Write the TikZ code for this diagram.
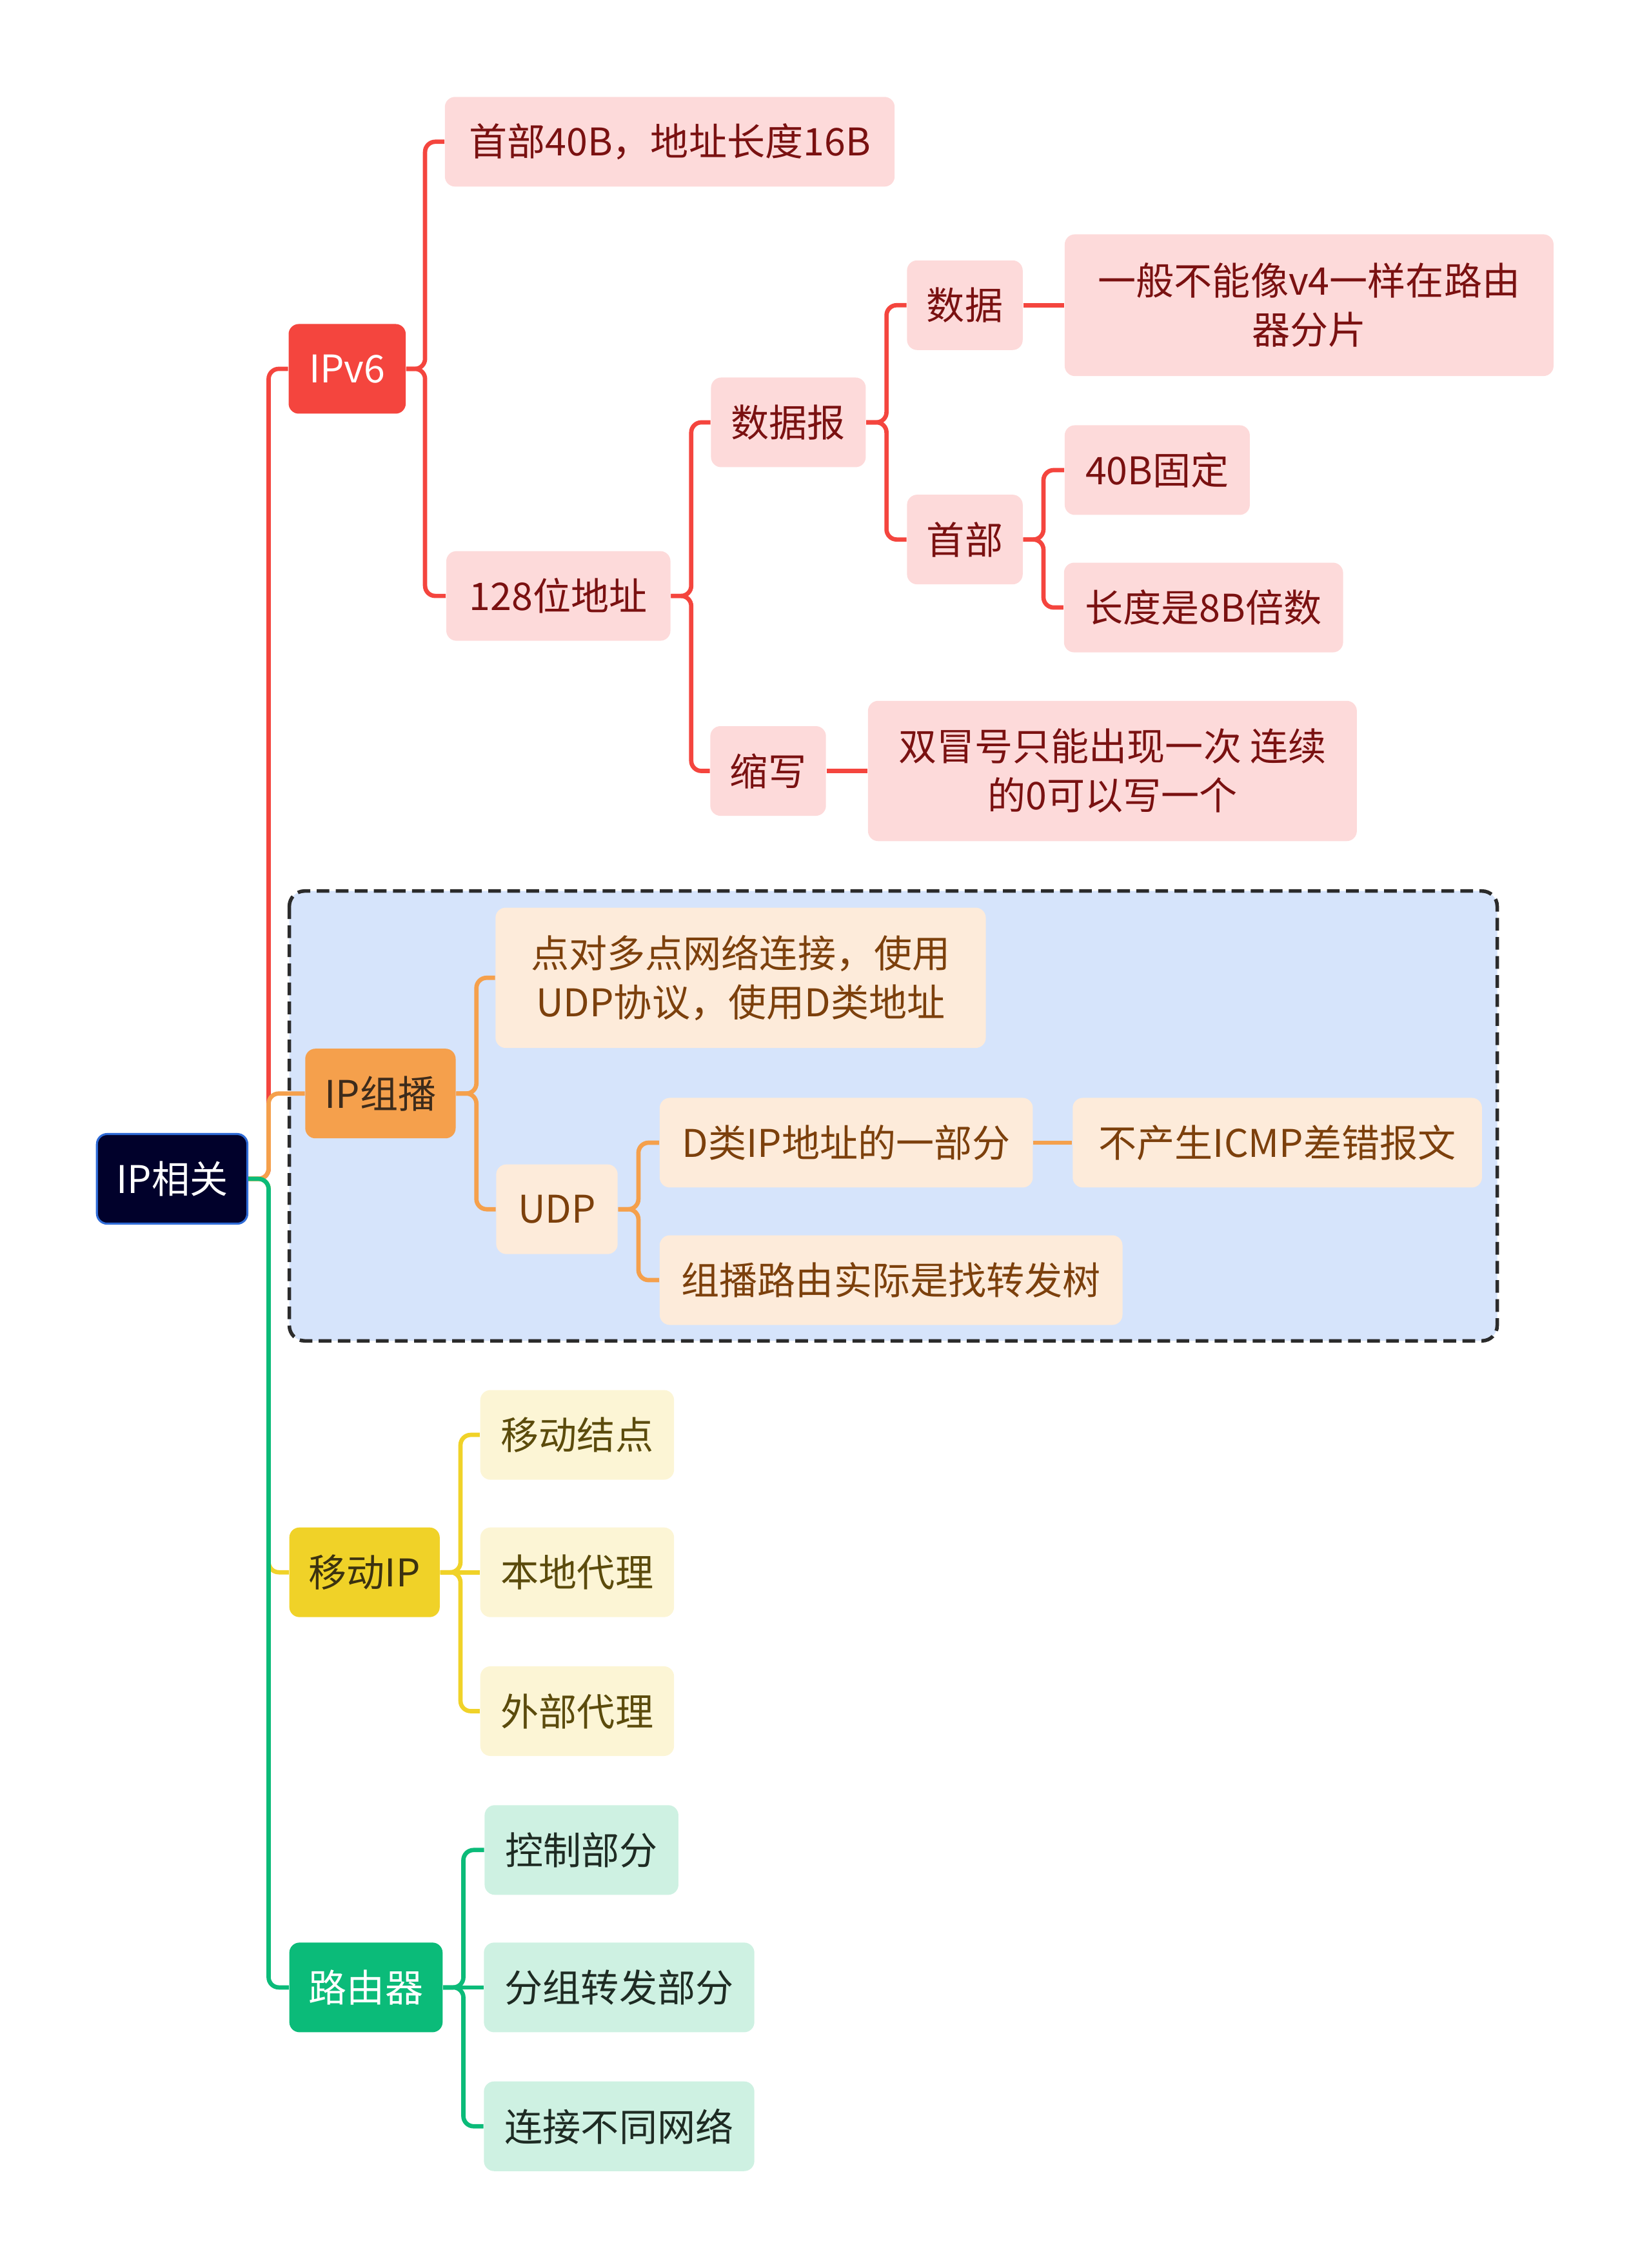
\documentclass[tikz,border=0pt]{standalone}
\usepackage{fontspec}
\setmainfont{Noto Sans CJK SC}
\usepackage{xcolor}
\definecolor{rootBack} {HTML}{01012B}
\definecolor{rootLine} {HTML}{2F6BD6}
\definecolor{redMain}  {HTML}{F4453E}
\definecolor{redBack}  {HTML}{FDDADA}
\definecolor{redText}  {HTML}{7A1111}
\definecolor{orgMain}  {HTML}{F5A04C}
\definecolor{orgBack}  {HTML}{FDEBDA}
\definecolor{orgText}  {HTML}{7C400C}
\definecolor{orgDark}  {HTML}{3D2B1B}
\definecolor{yelMain}  {HTML}{F0D228}
\definecolor{yelBack}  {HTML}{FCF5D5}
\definecolor{yelText}  {HTML}{5B4B0C}
\definecolor{yelDark}  {HTML}{3B3210}
\definecolor{grnMain}  {HTML}{0BBB79}
\definecolor{grnBack}  {HTML}{CEF1E2}
\definecolor{grnText}  {HTML}{1E2B23}
\definecolor{groupBack}{HTML}{D6E4FB}
\definecolor{groupLine}{HTML}{2B2B2B}

\tikzset{
    box/.style={rounded corners=4pt, minimum height=1.24cm, inner sep=0pt,
        align=center, font=\fontsize{15}{19.3}\selectfont},
    rootnode/.style={box, fill=rootBack, draw=rootLine, line width=0.8pt, text=white},
    redmain/.style={box, fill=redMain, text=white},
    redsub/.style={box, fill=redBack, text=redText},
    orgmain/.style={box, fill=orgMain, text=orgDark},
    orgsub/.style={box, fill=orgBack, text=orgText},
    yelmain/.style={box, fill=yelMain, text=yelDark},
    yelsub/.style={box, fill=yelBack, text=yelText},
    grnmain/.style={box, fill=grnMain, text=white},
    grnsub/.style={box, fill=grnBack, text=grnText},
    wire/.style={line width=1.7pt, rounded corners=4pt},
    redwire/.style={wire, draw=redMain},
    orgwire/.style={wire, draw=orgMain},
    yelwire/.style={wire, draw=yelMain},
    grnwire/.style={wire, draw=grnMain},
}

\begin{document}
\begin{tikzpicture}[x=0.02cm, y=-0.02cm]
    \useasboundingbox (0,0) rectangle (1141,1568);

    % --- dashed group behind the multicast branch ---
    \draw[fill=groupBack, draw=groupLine, line width=1.4pt, dash pattern=on 5pt off 2.5pt,
        rounded corners=6pt] (200,616) rectangle (1035,927);

    % --- root ---
    \node[rootnode, minimum width=2.08cm] (root) at (119,815) {IP相关};

    % --- IPv6 ---
    \node[redmain, minimum width=1.62cm] (ipv6)  at (240,255) {IPv6};
    \node[redsub, minimum width=6.22cm]  (hdr)   at (463,98)  {首部40B，地址长度16B};
    \node[redsub, minimum width=3.10cm]  (addr)  at (386,412) {128位地址};
    \node[redsub, minimum width=2.14cm]  (dgram) at (545,292) {数据报};
    \node[redsub, minimum width=1.60cm]  (data)  at (667,211) {数据};
    \node[redsub, minimum width=6.76cm, minimum height=1.96cm] (frag) at (905,211)
        {一般不能像v4一样在路由\\器分片};
    \node[redsub, minimum width=1.60cm]  (head)  at (667,373) {首部};
    \node[redsub, minimum width=2.56cm]  (fix)   at (800,325) {40B固定};
    \node[redsub, minimum width=3.86cm]  (mult)  at (832,420) {长度是8B倍数};
    \node[redsub, minimum width=1.60cm]  (abbr)  at (531,533) {缩写};
    \node[redsub, minimum width=6.76cm, minimum height=1.94cm] (colon) at (769,533)
        {双冒号只能出现一次 连续\\的0可以写一个};

    % --- IP multicast ---
    \node[orgmain, minimum width=2.08cm] (mcast)  at (263,756) {IP组播};
    \node[orgsub, minimum width=6.78cm, minimum height=1.94cm] (p2mp) at (512,676)
        {点对多点网络连接，使用\\UDP协议，使用D类地址};
    \node[orgsub, minimum width=1.68cm]  (udp)    at (385,836) {UDP};
    \node[orgsub, minimum width=5.16cm]  (dpart)  at (585,790) {D类IP地址的一部分};
    \node[orgsub, minimum width=5.66cm]  (noicmp) at (883,790) {不产生ICMP差错报文};
    \node[orgsub, minimum width=6.40cm]  (tree)   at (616,885) {组播路由实际是找转发树};

    % --- mobile IP ---
    \node[yelmain, minimum width=2.08cm] (mobile)  at (252,1087) {移动IP};
    \node[yelsub, minimum width=2.68cm]  (mnode)   at (399,992)  {移动结点};
    \node[yelsub, minimum width=2.68cm]  (home)    at (399,1087) {本地代理};
    \node[yelsub, minimum width=2.68cm]  (foreign) at (399,1183) {外部代理};

    % --- router ---
    \node[grnmain, minimum width=2.12cm] (router) at (253,1374) {路由器};
    \node[grnsub, minimum width=2.68cm]  (ctrl)   at (402,1279) {控制部分};
    \node[grnsub, minimum width=3.74cm]  (fwd)    at (428,1374) {分组转发部分};
    \node[grnsub, minimum width=3.74cm]  (link)   at (428,1470) {连接不同网络};

    % --- connectors ---
    \draw[redwire] (root.east) -- ++(14,0) |- (ipv6.west);
    \draw[redwire] (ipv6.east) -- ++(13,0) |- (hdr.west);
    \draw[redwire] (ipv6.east) -- ++(13,0) |- (addr.west);
    \draw[redwire] (addr.east) -- ++(14,0) |- (dgram.west);
    \draw[redwire] (addr.east) -- ++(14,0) |- (abbr.west);
    \draw[redwire] (dgram.east) -- ++(14,0) |- (data.west);
    \draw[redwire] (dgram.east) -- ++(14,0) |- (head.west);
    \draw[redwire] (data.east) -- (frag.west);
    \draw[redwire] (head.east) -- ++(14,0) |- (fix.west);
    \draw[redwire] (head.east) -- ++(14,0) |- (mult.west);
    \draw[redwire] (abbr.east) -- (colon.west);

    \draw[orgwire] (root.east) -- ++(14,0) |- (mcast.west);
    \draw[orgwire] (mcast.east) -- ++(14,0) |- (p2mp.west);
    \draw[orgwire] (mcast.east) -- ++(14,0) |- (udp.west);
    \draw[orgwire] (udp.east) -- ++(14,0) |- (dpart.west);
    \draw[orgwire] (udp.east) -- ++(14,0) |- (tree.west);
    \draw[orgwire] (dpart.east) -- (noicmp.west);

    \draw[yelwire] (root.east) -- ++(14,0) |- (mobile.west);
    \draw[yelwire] (mobile.east) -- ++(14,0) |- (mnode.west);
    \draw[yelwire] (mobile.east) -- (home.west);
    \draw[yelwire] (mobile.east) -- ++(14,0) |- (foreign.west);

    \draw[grnwire] (root.east) -- ++(14,0) |- (router.west);
    \draw[grnwire] (router.east) -- ++(14,0) |- (ctrl.west);
    \draw[grnwire] (router.east) -- (fwd.west);
    \draw[grnwire] (router.east) -- ++(14,0) |- (link.west);
\end{tikzpicture}
\end{document}
